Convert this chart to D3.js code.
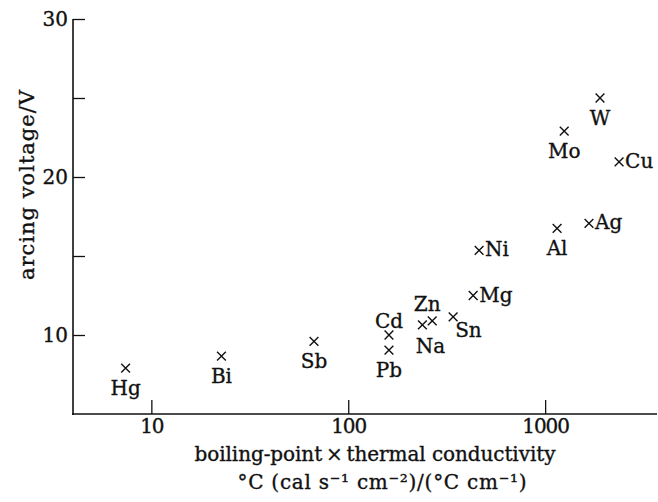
<!DOCTYPE html>
<html>
<head>
<meta charset="utf-8">
<script src="https://cdn.jsdelivr.net/npm/d3@7"></script>
<style>
  body { margin: 0; background: #fff; }
  svg { display: block; }
  text { font-family: "DejaVu Serif", "Liberation Serif", serif; fill: #111; stroke: #111; stroke-width: 0.35px; }
</style>
</head>
<body>
<script>
var
  // data
  metals   = ['Hg', 'Bi', 'Sb', 'Cd', 'Pb', 'Na', 'Zn', 'Sn', 'Mg', 'Ni', 'Al', 'Ag', 'Mo', 'W', 'Cu'],
  product  = [7.4, 22.7, 67, 161, 161, 238, 267, 341, 431, 462, 1150, 1670, 1250, 1900, 2375],
  voltage  = [7.9, 8.66, 9.6, 10.0, 9.04, 10.64, 10.9, 11.15, 12.5, 15.35, 16.75, 17.07, 22.9, 25.0, 20.96],
  xTicks   = [10, 100, 1000],
  yTicks   = [10, 15, 20, 25, 30],
  yLabeled = [10, 20, 30],

  // where each label sits relative to its cross
  placement = {
    Hg: 'below', Bi: 'below', Sb: 'below', Cd: 'above', Pb: 'below',
    Na: 'belowNa', Zn: 'aboveZn', Sn: 'rightBelow', Mg: 'right', Ni: 'right',
    Al: 'below', Ag: 'right', Mo: 'below', W: 'below', Cu: 'right'
  },
  offsets = {
    below:      { dx: 0,  dy: 27, anchor: 'middle' },
    above:      { dx: 0,  dy: -7, anchor: 'middle' },
    belowNa:    { dx: 8,  dy: 28, anchor: 'middle' },
    aboveZn:    { dx: -5, dy: -10, anchor: 'middle' },
    rightBelow: { dx: 2,  dy: 20, anchor: 'start' },
    right:      { dx: 6,  dy: 6,  anchor: 'start' }
  },

  config = {
    w : 658,
    h : 502,
    left : 73,
    right : 657,
    top : 19,
    bottom : 414
  },

  draw = function draw() {
    var svg = d3.select('body').append('svg')
      .attr('width', config.w)
      .attr('height', config.h);

    var x = d3.scaleLog().domain([4, 3700]).range([config.left, config.right]);
    var y = d3.scaleLinear().domain([5, 30]).range([config.bottom, config.top]);

    var xAxis = d3.axisBottom(x)
      .tickValues(xTicks)
      .tickFormat(d3.format('d'))
      .tickSizeInner(-14)
      .tickSizeOuter(0)
      .tickPadding(5);

    var yAxis = d3.axisLeft(y)
      .tickValues(yTicks)
      .tickFormat(function (d) { return yLabeled.indexOf(d) >= 0 ? d : ''; })
      .tickSizeInner(-12)
      .tickSizeOuter(0)
      .tickPadding(5);

    var gx = svg.append('g')
      .attr('transform', 'translate(0,' + config.bottom + ')')
      .call(xAxis);

    var gy = svg.append('g')
      .attr('transform', 'translate(' + config.left + ',0)')
      .call(yAxis);

    [gx, gy].forEach(function (g) {
      g.select('.domain').attr('stroke', '#111').attr('stroke-width', 1.6);
      g.selectAll('.tick line').attr('stroke', '#111').attr('stroke-width', 1.3);
      g.selectAll('.tick text')
        .attr('fill', '#111')
        .style('font-family', '"DejaVu Serif", serif')
        .style('font-size', '20px');
    });
    gx.selectAll('.tick text').attr('letter-spacing', '-1px');

    // the y axis line starts at the 30 tick, x axis runs to the edge
    gy.select('.domain').attr('d', 'M0,' + y(30) + 'V' + (config.bottom + 1));
    gx.select('.domain').attr('d', 'M' + (config.left - 1) + ',0H' + config.right);

    var points = metals.map(function (m, i) {
      return { name: m, x: product[i], y: voltage[i] };
    });

    var cross = d3.symbol().type(d3.symbolTimes).size(52);

    svg.append('g').selectAll('path')
      .data(points)
      .enter().append('path')
      .attr('d', cross)
      .attr('transform', function (d) { return 'translate(' + x(d.x) + ',' + y(d.y) + ')'; })
      .attr('stroke', '#111')
      .attr('stroke-width', 1.4)
      .attr('fill', 'none');

    svg.append('g').selectAll('text')
      .data(points)
      .enter().append('text')
      .attr('x', function (d) { return x(d.x) + offsets[placement[d.name]].dx; })
      .attr('y', function (d) { return y(d.y) + offsets[placement[d.name]].dy; })
      .attr('text-anchor', function (d) { return offsets[placement[d.name]].anchor; })
      .style('font-size', '20px')
      .text(function (d) { return d.name; });

    // axis titles
    svg.append('text')
      .attr('transform', 'translate(34,185) rotate(-90)')
      .attr('text-anchor', 'middle')
      .attr('textLength', 190)
      .attr('lengthAdjust', 'spacing')
      .style('font-size', '21px')
      .text('arcing voltage/V');

    svg.append('text')
      .attr('x', 375)
      .attr('y', 461)
      .attr('text-anchor', 'middle')
      .attr('textLength', 361)
      .attr('lengthAdjust', 'spacing')
      .style('font-size', '20px')
      .text('boiling-point\u2009\u00d7\u2009thermal conductivity');

    svg.append('text')
      .attr('x', 382)
      .attr('y', 489)
      .attr('text-anchor', 'middle')
      .attr('textLength', 289)
      .attr('lengthAdjust', 'spacing')
      .style('font-size', '20px')
      .text('\u00b0C (cal s\u207b\u00b9 cm\u207b\u00b2)/(\u00b0C cm\u207b\u00b9)');
  };

draw();
</script>
</body>
</html>
